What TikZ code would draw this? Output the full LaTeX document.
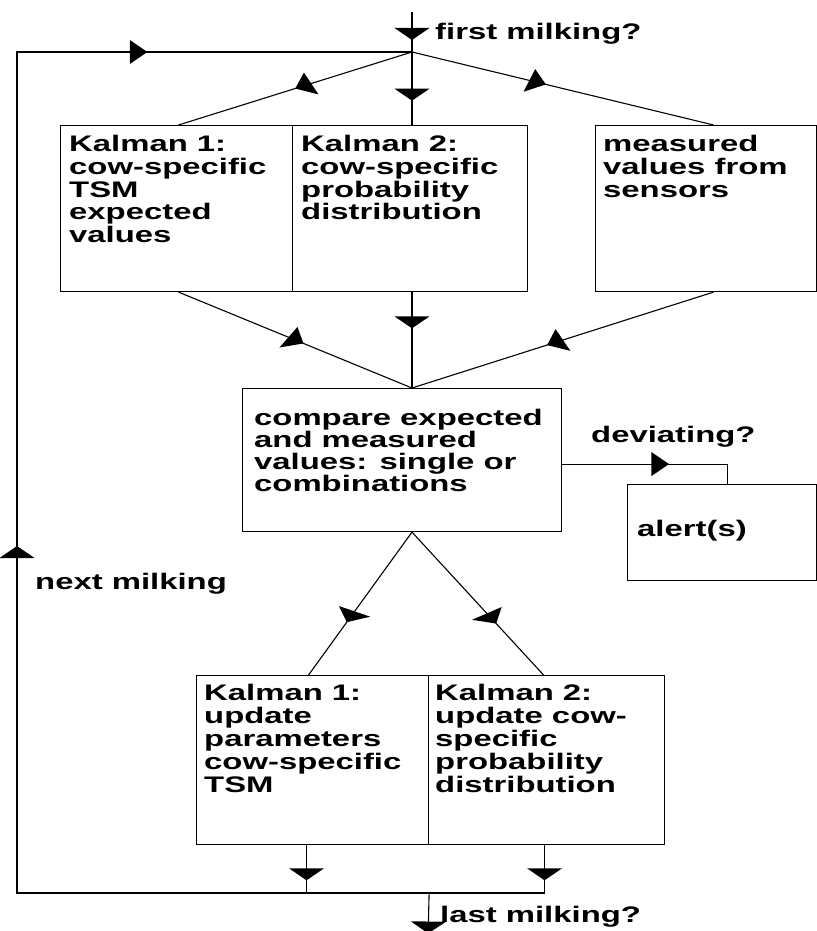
\documentclass[tikz,border=0pt]{standalone}
\usepackage{fontspec}
\setmainfont{Liberation Sans}[FakeStretch=1.46]
\usetikzlibrary{calc}

% Filled flow triangle sitting on the straight connector #1 -- #2,
% its tip at fraction #3; the shape is drawn widened by 1.46 horizontally.
\newcommand\flowtip[3]{%
  \fill let \p1=(#1), \p2=(#2), \p3=($(#1)!#3!(#2)$),
        \n1={atan2(\y2-\y1,(\x2-\x1)/1.46)} in
    (\p3) -- ($(\p3)+({1.46*(-12*cos(\n1)-12*sin(\n1))},{-12*sin(\n1)+12*cos(\n1)})$)
          -- ($(\p3)+({1.46*(-12*cos(\n1)+12*sin(\n1))},{-12*sin(\n1)-12*cos(\n1)})$)
          -- cycle;}

\tikzset{
  flowline/.style={line width=1.1pt},
  stepbox/.style={draw, line width=1.1pt, rectangle, inner sep=0pt, anchor=north west},
  boxtext/.style={anchor=north west, inner sep=0pt, align=left,
    font=\bfseries\fontsize{22.5}{22.75}\selectfont},
  widetext/.style={boxtext, font=\bfseries\fontsize{22.5}{22}\selectfont},
  lowtext/.style={boxtext, font=\bfseries\fontsize{22.5}{23}\selectfont},
}

\begin{document}
\begin{tikzpicture}[x=1pt, y=1pt]
  \useasboundingbox (0,0) rectangle (816,-931);

  % boxes (top-left corner, size)
  \node[stepbox, minimum width=232, minimum height=166] (k1)    at (60,-125)    {};
  \node[stepbox, minimum width=235, minimum height=166] (k2)    at (292,-125)   {};
  \node[stepbox, minimum width=221, minimum height=166] (sens)  at (594.5,-125) {};
  \node[stepbox, minimum width=319, minimum height=143] (cmp)   at (242,-388)   {};
  \node[stepbox, minimum width=188.5, minimum height=96] (alert) at (627,-484)  {};
  \node[stepbox, minimum width=232, minimum height=169] (u1)    at (196,-675)   {};
  \node[stepbox, minimum width=236, minimum height=169] (u2)    at (428,-675)   {};

  % box texts
  \node[boxtext] (t1) at (69,-135)  {Kalman 1:\\cow-specific\\TSM\\expected\\values};
  \node[boxtext] (t2) at (301,-135) {Kalman 2:\\cow-specific\\probability\\distribution};
  \node[boxtext] (t3) at (603,-135) {measured\\values from\\sensors};
  \node[widetext] (t4) at (254,-409) {compare expected\\and measured\\values: single or\\combinations};
  \node[boxtext] (t5) at (637,-520) {alert(s)};
  \node[lowtext] (t6) at (204,-684) {Kalman 1:\\update\\parameters\\cow-specific\\TSM};
  \node[lowtext] (t7) at (435,-684) {Kalman 2:\\update cow-\\specific\\probability\\distribution};

  % free labels
  \node[boxtext] (lfirst) at (435,-22.5) {first milking?};
  \node[boxtext] (ldev)   at (591,-426)  {deviating?};
  \node[boxtext] (lnext)  at (35,-573)   {next milking};
  \node[boxtext] (llast)  at (440,-906)  {last milking?};

  % junction points
  \coordinate (in)    at (412,-12);
  \coordinate (fork)  at (412,-52);
  \coordinate (k1top) at ([xshift=2]k1.north);
  \coordinate (k2top) at (fork |- k2.north);
  \coordinate (s3top) at ([xshift=8]sens.north);
  \coordinate (k1bot) at ([xshift=2]k1.south);
  \coordinate (k2bot) at (fork |- k2.south);
  \coordinate (s3bot) at ([xshift=8]sens.south);
  \coordinate (cmptop) at (fork |- cmp.north);
  \coordinate (cmpbot) at (fork |- cmp.south);
  \coordinate (u1top) at ([xshift=-4]u1.north);
  \coordinate (u2top) at ([xshift=-3]u2.north);
  \coordinate (devout) at ([yshift=-4]cmp.east);
  \coordinate (devin)  at ([xshift=6]alert.north);
  \coordinate (devcorner) at (devin |- devout);
  \coordinate (u1bot) at ([xshift=-6]u1.south);
  \coordinate (u2bot) at ([xshift=-2]u2.south);
  \coordinate (merge1) at (u1bot |- 0,-893);
  \coordinate (merge2) at (u2bot |- 0,-893);
  \coordinate (loopbl) at (17,-893);
  \coordinate (looptl) at (loopbl |- fork);
  \coordinate (exit)   at (u1.east |- merge1);
  \coordinate (stop)   at (428,-940);

  % connectors
  \draw[flowline] (in) -- (fork);
  \draw[flowline] (fork) -- (k1top);
  \draw[flowline] (fork) -- (k2top);
  \draw[flowline] (fork) -- (s3top);
  \draw[flowline] (k1bot) -- (cmptop);
  \draw[flowline] (k2bot) -- (cmptop);
  \draw[flowline] (s3bot) -- (cmptop);
  \draw[flowline] (devout) -- (devcorner) -- (devin);
  \draw[flowline] (cmpbot) -- (u1top);
  \draw[flowline] (cmpbot) -- (u2top);
  \draw[flowline] (u1bot) -- (merge1);
  \draw[flowline] (u2bot) -- (merge2);
  \draw[flowline] (merge2) -- (loopbl) -- (looptl) -- (fork);
  \draw[flowline] (exit) -- (stop);

  % flow triangles
  \flowtip{in}{fork}{0.7}
  \flowtip{fork}{k1top}{0.5}
  \flowtip{fork}{k2top}{0.667}
  \flowtip{fork}{s3top}{0.444}
  \flowtip{k1bot}{cmptop}{0.535}
  \flowtip{k2bot}{cmptop}{0.378}
  \flowtip{s3bot}{cmptop}{0.552}
  \flowtip{devout}{devcorner}{0.645}
  \flowtip{cmpbot}{u1top}{0.63}
  \flowtip{cmpbot}{u2top}{0.64}
  \flowtip{u1bot}{merge1}{0.735}
  \flowtip{u2bot}{merge2}{0.735}
  \flowtip{loopbl}{looptl}{0.4126}
  \flowtip{looptl}{fork}{0.33}
  \flowtip{exit}{stop}{0.862}
\end{tikzpicture}
\end{document}
